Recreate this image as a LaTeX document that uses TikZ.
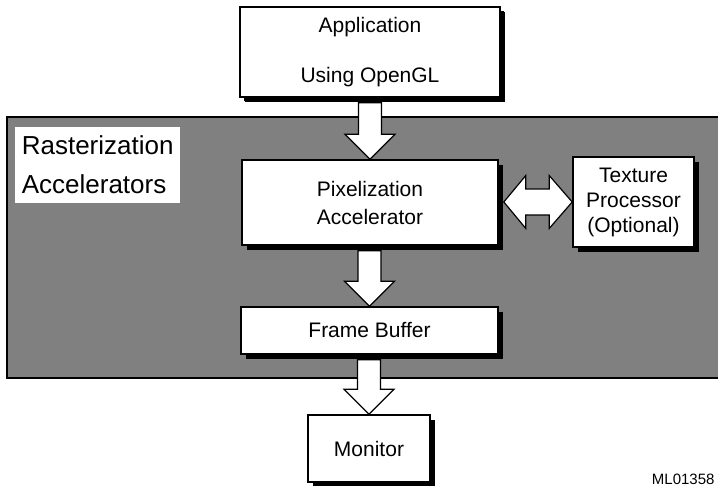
\documentclass[tikz,border=0pt]{standalone}
\usepackage{fontspec}
\setmainfont{Liberation Sans}
\usetikzlibrary{calc,shadows}
\tikzset{
	box/.style={draw,line width=1.6pt,fill=white,inner sep=0pt,align=center,
		drop shadow={shadow xshift=5pt,shadow yshift=-5pt,fill=black,opacity=1}},
	blockarrow/.style={draw,line width=1.2pt,fill=white,line join=miter},
}
% block arrow downwards from #1 to #2
\newcommand{\blockdown}[2]{%
	\draw[blockarrow] ($(#2.north |- #1.south)+(-11.5,5)$)--($(#2.north)+(-11.5,-25)$)--($(#2.north)+(-25,-25)$)
	--(#2.north)--($(#2.north)+(25,-25)$)--($(#2.north)+(11.5,-25)$)--($(#2.north |- #1.south)+(11.5,5)$)--cycle;}
% two-headed block arrow between #1 and #2
\newcommand{\blockboth}[2]{%
	\draw[blockarrow] ($(#1.east |- #2.west)+(5,0)$)--($(#1.east |- #2.west)+(27,-26.5)$)--($(#1.east |- #2.west)+(27,-13)$)
	--($(#2.west)+(-23,-13)$)--($(#2.west)+(-23,-26.5)$)--(#2.west)--($(#2.west)+(-23,26.5)$)--($(#2.west)+(-23,13)$)
	--($(#1.east |- #2.west)+(27,13)$)--($(#1.east |- #2.west)+(27,26.5)$)--cycle;}
\begin{document}
\begin{tikzpicture}[x=1pt,y=-1pt,font=\fontsize{21}{25}\selectfont]
	\useasboundingbox (0,0) rectangle (718,486);
	\path (370,52) coordinate (A)
		(370,202.5) coordinate (P)
		(633.5,202) coordinate (T)
		(369.5,330.5) coordinate (F)
		(369,448.5) coordinate (M)
		;
	% accelerator band
	\draw[line width=1.6pt,fill=black!50] (7,117) rectangle (725,378);
	\node[fill=white,anchor=north west,minimum width=165pt,minimum height=76pt,inner sep=5pt,align=left,
		font=\fontsize{26}{39}\selectfont] (rast) at (15,127) {Rasterization\\Accelerators};
	% boxes
	\node[box,minimum width=260pt,minimum height=90pt,drop shadow={shadow xshift=4pt,shadow yshift=-4pt,fill=black,opacity=1}] (app) at (A) {Application\\[25pt]Using OpenGL};
	\node[box,minimum width=256pt,minimum height=85pt] (pix) at (P) {Pixelization\\[3pt]Accelerator};
	\node[box,minimum width=121pt,minimum height=90pt] (tex) at (T) {Texture\\Processor\\(Optional)};
	\node[box,minimum width=257pt,minimum height=47pt] (fb) at (F) {Frame Buffer};
	\node[box,minimum width=122pt,minimum height=67pt] (mon) at (M) {Monitor};
	% arrows
	\blockdown{app}{pix}
	\blockdown{pix}{fb}
	\blockdown{fb}{mon}
	\blockboth{pix}{tex}
	\node[anchor=east,font=\fontsize{15}{18}\selectfont] (code) at (718,479) {ML01358};
\end{tikzpicture}
\end{document}
